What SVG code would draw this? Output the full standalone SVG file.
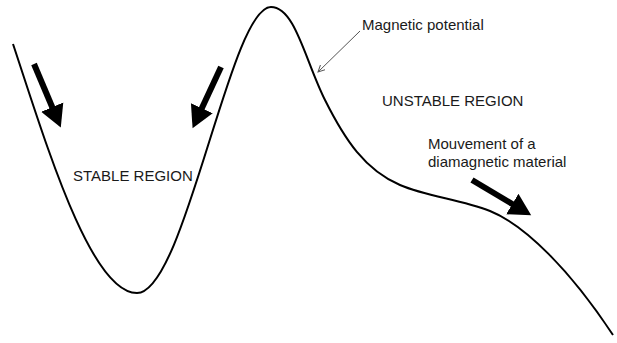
<svg xmlns="http://www.w3.org/2000/svg" width="617" height="343" viewBox="0 0 617 343">
<style>
.curve{fill:none;stroke:#000;stroke-width:2}
.fat{fill:none;stroke:#000;stroke-width:6}
.lead{fill:none;stroke:#555;stroke-width:1}
text{font-family:"Liberation Sans",Arial,sans-serif;font-size:15px;fill:#1a1a1a}
</style>
<defs>
<marker id="big" markerUnits="userSpaceOnUse" markerWidth="24" markerHeight="26" refX="2" refY="12" orient="auto" viewBox="0 0 24 24">
<path d="M0,0 L22,12 L0,24 Z" fill="#000"/>
</marker>
<marker id="small" markerUnits="userSpaceOnUse" markerWidth="8" markerHeight="8" refX="7" refY="4" orient="auto" viewBox="0 0 8 8">
<path d="M0,0.5 L7,4 L0,7.5" fill="none" stroke="#555" stroke-width="1"/>
</marker>
</defs>
<rect width="617" height="343" fill="#fff"/>
<g id="potential">
<path class="curve" d="M13,44 C45,140 90,293 137,293 C185,293 230,7 271,7 C295,7 305,60 325,100 C345,140 365,170 400,185 C428,197 460,199 490,211 C525,225 570,270 613,335"/>
</g>
<g id="connectors">
<path class="fat" d="M34,64 L53,109" marker-end="url(#big)"/>
<path class="fat" d="M221,67 L201,110" marker-end="url(#big)"/>
<path class="fat" d="M472,180 L514,205" marker-end="url(#big)"/>
<path class="lead" d="M360,31 L318,72" marker-end="url(#small)"/>
</g>
<g id="labels">
<text x="362" y="30">Magnetic potential</text>
<text x="73" y="181">STABLE REGION</text>
<text x="382" y="106">UNSTABLE REGION</text>
<text x="428" y="149">Mouvement of a</text>
<text x="428" y="167">diamagnetic material</text>
</g>
</svg>
